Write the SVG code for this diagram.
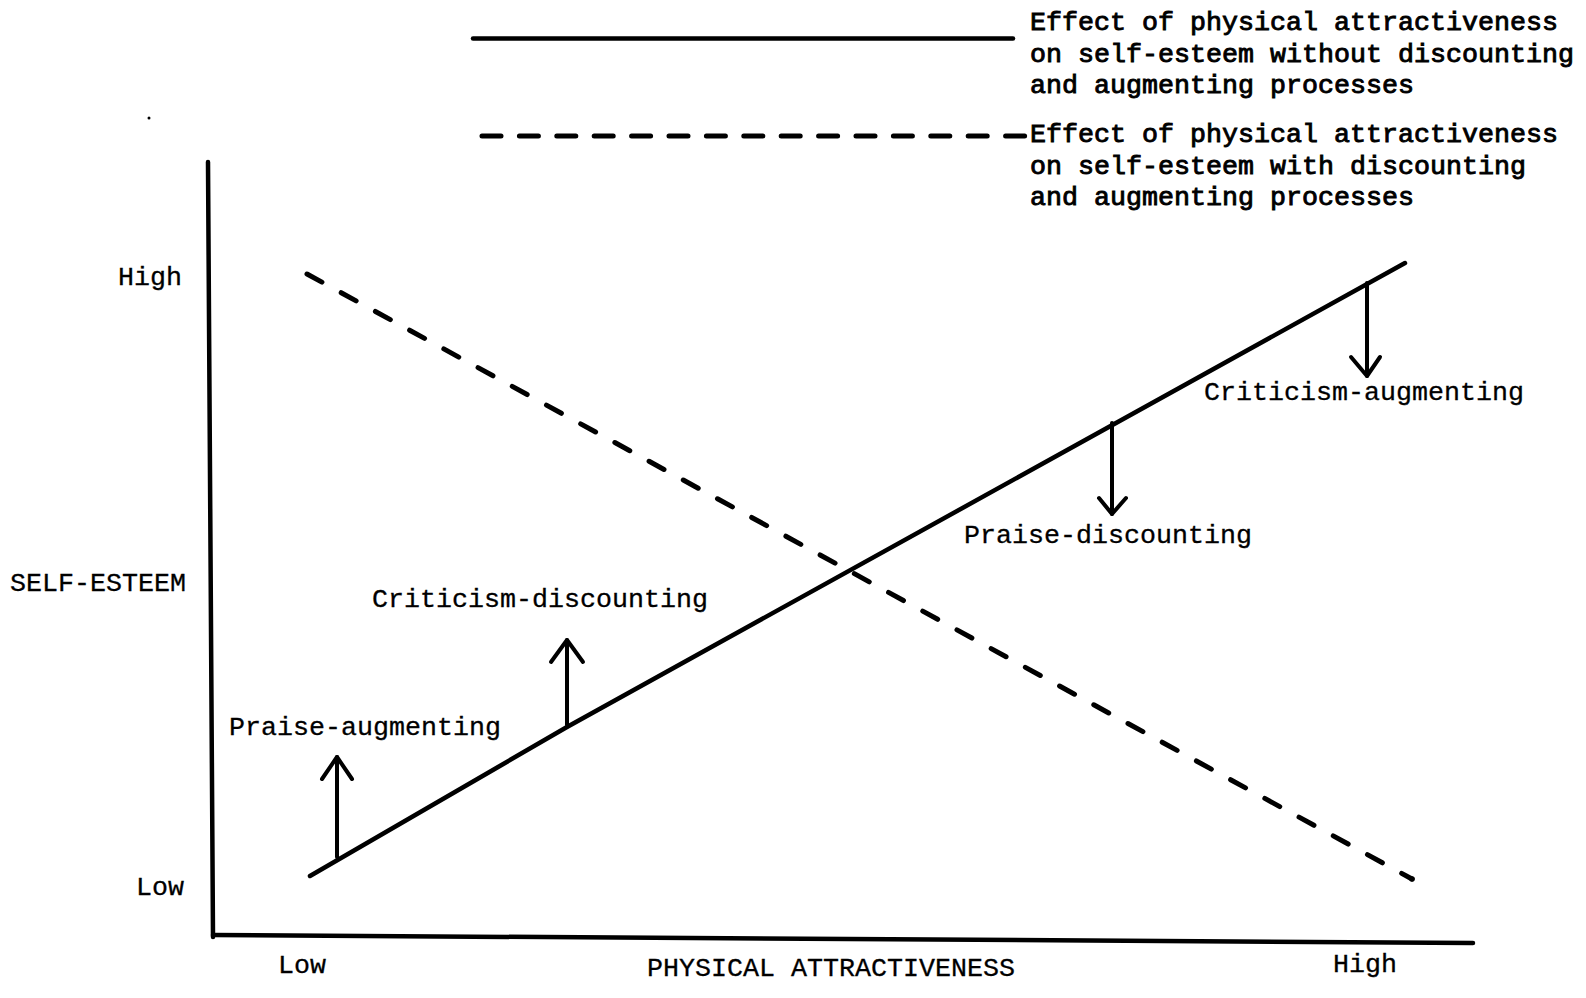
<svg xmlns="http://www.w3.org/2000/svg" width="1586" height="998" viewBox="0 0 1586 998">
<style>
  .ln { fill: none; stroke: #000; stroke-linecap: round; stroke-linejoin: round; }
  .t { font-family: "Liberation Mono", "Courier New", monospace; font-size: 26.67px; fill: #000; stroke: #000; stroke-width: 0.3; }
  .leg { stroke-width: 0.9; }
  .arr { fill: none; stroke: #000; stroke-width: 4; stroke-linecap: round; stroke-linejoin: round; }
</style>
<rect width="1586" height="998" fill="#fff"/>

<g id="axes">
  <line class="ln" x1="208" y1="162" x2="213" y2="937" stroke-width="4.5"/>
  <line class="ln" x1="213" y1="935" x2="1473" y2="943" stroke-width="4.5"/>
</g>

<g id="legend">
  <line class="ln" x1="473" y1="38.5" x2="1013" y2="38.5" stroke-width="4.5"/>
  <line class="ln" x1="482" y1="136" x2="1026" y2="136" stroke-width="5" stroke-dasharray="19 18.4"/>
  <text class="t leg" x="1030" y="30">Effect of physical attractiveness</text>
  <text class="t leg" x="1030" y="62">on self-esteem without discounting</text>
  <text class="t leg" x="1030" y="93">and augmenting processes</text>
  <text class="t leg" x="1030" y="142">Effect of physical attractiveness</text>
  <text class="t leg" x="1030" y="174">on self-esteem with discounting</text>
  <text class="t leg" x="1030" y="205">and augmenting processes</text>
</g>

<g id="axis-labels">
  <text class="t" x="118" y="285">High</text>
  <text class="t" x="136" y="895">Low</text>
  <text class="t" x="10" y="591">SELF-ESTEEM</text>
  <text class="t" x="278" y="973">Low</text>
  <text class="t" x="1333" y="972">High</text>
  <text class="t" x="647" y="976" font-size="26.2">PHYSICAL ATTRACTIVENESS</text>
</g>

<g id="connectors">
  <polyline id="solid-line" class="ln" stroke-width="4.5" points="310,876 567,727 1405,263"/>
  <line id="dashed-line" class="ln" x1="307" y1="274" x2="1412" y2="879" stroke-width="5" stroke-dasharray="17 22"/>
  <circle cx="1412" cy="879" r="2.8" fill="#000"/>
</g>

<g id="praise-augmenting">
  <line class="arr" x1="337" y1="857" x2="337" y2="757"/>
  <polyline class="arr" points="322,779 337,757 352,779"/>
  <text class="t" x="229" y="735">Praise-augmenting</text>
</g>

<g id="criticism-discounting">
  <line class="arr" x1="567" y1="725" x2="567" y2="640"/>
  <polyline class="arr" points="551,662 567,640 583,662"/>
  <text class="t" x="372" y="607">Criticism-discounting</text>
</g>

<g id="praise-discounting">
  <line class="arr" x1="1112" y1="423" x2="1112" y2="514"/>
  <polyline class="arr" points="1099,498 1112,514 1126,498"/>
  <text class="t" x="964" y="543">Praise-discounting</text>
</g>

<g id="criticism-augmenting">
  <line class="arr" x1="1367" y1="283" x2="1367" y2="376"/>
  <polyline class="arr" points="1351,357 1367,376 1380,357"/>
  <text class="t" x="1204" y="400">Criticism-augmenting</text>
</g>

<circle cx="149" cy="118" r="1.5" fill="#000"/>
</svg>
